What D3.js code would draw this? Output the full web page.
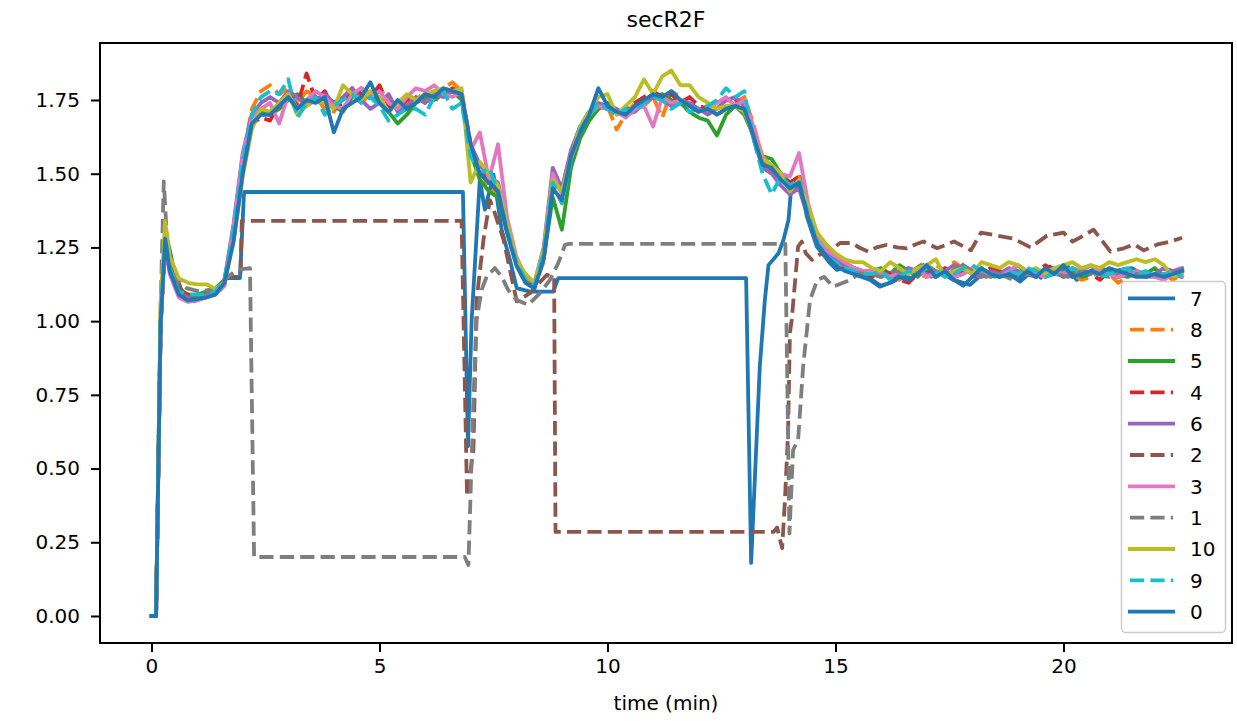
<!DOCTYPE html>
<meta charset="utf-8">
<script src="https://d3js.org/d3.v7.min.js"></script>
<style>
  body { margin: 0; background: #fff; }
  text { font-family: "DejaVu Sans", sans-serif; }
</style>
<div id="my_dataviz"></div>
<script>

// shared sampling grid (minutes) for the series that follow the common profile
var gridMin = [0,0.1,0.2,0.3,0.4,0.6,0.8,1,1.2,1.4,1.6,1.8,2,2.2,2.4,2.6,2.8,3,3.2,3.4,3.6,3.8,4,4.2,4.4,4.6,4.8,5,5.2,5.4,5.6,5.8,6,6.2,6.4,6.6,6.8,7,7.2,7.4,7.6,7.8,8,8.2,8.4,8.6,8.8,9,9.2,9.4,9.6,9.8,10,10.2,10.4,10.6,10.8,11,11.2,11.4,11.6,11.8,12,12.2,12.4,12.6,12.8,13,13.2,13.4,13.6,13.8,14,14.2,14.4,14.6,14.8,15,15.2,15.4,15.6,15.8,16,16.2,16.4,16.6,16.8,17,17.2,17.4,17.6,17.8,18,18.2,18.4,18.6,18.8,19,19.2,19.4,19.6,19.8,20,20.2,20.4,20.6,20.8,21,21.2,21.4,21.6,21.8,22,22.2,22.4,22.6];

var s8 = [0,0,0.98,1.26,1.18,1.11,1.08,1.08,1.09,1.09,1.12,1.30,1.55,1.72,1.78,
  1.80,1.77,1.79,1.74,1.78,1.76,1.72,1.71,1.76,1.78,1.74,1.77,1.79,1.75,1.72,1.74,1.77,1.75,1.74,1.79,1.81,1.78,
  1.60,1.52,1.45,1.43,1.30,1.19,1.13,1.12,1.20,1.46,1.40,
  1.55,1.63,1.69,1.72,1.73,1.65,1.70,1.74,1.73,1.76,1.69,1.78,1.76,1.73,1.72,1.71,1.72,1.75,1.74,1.76,
  1.67,1.55,1.50,1.50,1.47,1.49,1.35,1.26,1.22,1.20,1.19,1.17,1.15,
  1.16,1.15,1.17,1.14,1.18,1.16,1.15,1.19,1.17,1.20,1.18,1.16,1.15,1.17,1.18,1.16,1.14,1.17,1.16,1.15,1.18,1.17,1.16,1.14,1.15,1.17,1.16,1.13,1.15,1.16,1.17,1.15,1.16,1.14,1.16];

var s5 = [0,0,1.02,1.27,1.19,1.11,1.09,1.09,1.10,1.11,1.14,1.28,1.50,1.66,1.71,
  1.70,1.72,1.75,1.77,1.74,1.76,1.75,1.73,1.71,1.76,1.79,1.77,1.74,1.71,1.67,1.70,1.74,1.76,1.75,1.77,1.78,1.75,
  1.57,1.48,1.44,1.42,1.30,1.20,1.14,1.12,1.21,1.42,1.31,
  1.52,1.62,1.68,1.72,1.74,1.71,1.70,1.72,1.74,1.76,1.77,1.75,1.74,1.71,1.69,1.68,1.63,1.70,1.73,1.70,
  1.63,1.56,1.55,1.50,1.47,1.48,1.37,1.28,1.24,1.21,1.20,1.18,1.17,
  1.17,1.18,1.16,1.19,1.17,1.15,1.18,1.16,1.17,1.15,1.16,1.18,1.17,1.15,1.16,1.17,1.19,1.16,1.15,1.17,1.16,1.18,1.17,1.15,1.16,1.18,1.17,1.16,1.15,1.17,1.16,1.18,1.15,1.16,1.17];

var s4 = [0,0,0.99,1.26,1.18,1.10,1.09,1.08,1.09,1.10,1.13,1.29,1.53,1.67,1.69,
  1.68,1.74,1.77,1.73,1.84,1.75,1.78,1.72,1.74,1.79,1.77,1.76,1.80,1.73,1.72,1.75,1.76,1.74,1.78,1.76,1.79,1.77,
  1.59,1.51,1.47,1.44,1.32,1.20,1.15,1.12,1.23,1.49,1.45,
  1.57,1.66,1.71,1.73,1.72,1.70,1.72,1.74,1.76,1.78,1.76,1.77,1.74,1.76,1.73,1.72,1.70,1.72,1.75,1.74,
  1.65,1.55,1.51,1.49,1.47,1.49,1.36,1.27,1.23,1.21,1.19,1.18,1.16,
  1.15,1.17,1.16,1.14,1.13,1.16,1.17,1.15,1.18,1.16,1.17,1.15,1.16,1.18,1.17,1.16,1.15,1.17,1.16,1.19,1.17,1.15,1.16,1.18,1.16,1.14,1.17,1.15,1.16,1.17,1.15,1.16,1.17,1.15,1.16];

var s6 = [0,0,1.00,1.27,1.18,1.10,1.08,1.08,1.09,1.10,1.14,1.33,1.57,1.70,1.74,
  1.76,1.74,1.78,1.76,1.73,1.75,1.77,1.74,1.76,1.79,1.75,1.72,1.74,1.77,1.71,1.73,1.76,1.74,1.77,1.76,1.78,1.77,
  1.60,1.53,1.49,1.47,1.33,1.21,1.15,1.13,1.25,1.52,1.45,
  1.58,1.66,1.71,1.74,1.73,1.72,1.70,1.71,1.74,1.76,1.75,1.73,1.75,1.74,1.72,1.70,1.72,1.75,1.76,1.73,
  1.62,1.52,1.50,1.46,1.43,1.45,1.35,1.27,1.23,1.21,1.19,1.18,1.17,
  1.16,1.17,1.15,1.16,1.18,1.17,1.16,1.15,1.17,1.19,1.18,1.16,1.15,1.17,1.16,1.18,1.17,1.16,1.15,1.17,1.18,1.16,1.15,1.17,1.16,1.18,1.16,1.15,1.16,1.17,1.15,1.16,1.18,1.17,1.18];

var s3 = [0,0,0.98,1.25,1.16,1.08,1.065,1.07,1.08,1.09,1.12,1.32,1.56,1.69,1.72,
  1.74,1.67,1.77,1.72,1.75,1.78,1.76,1.73,1.72,1.77,1.79,1.76,1.78,1.74,1.72,1.76,1.79,1.78,1.80,1.77,1.76,1.78,
  1.58,1.64,1.48,1.60,1.35,1.22,1.15,1.13,1.24,1.50,1.43,
  1.55,1.64,1.70,1.73,1.72,1.71,1.69,1.72,1.73,1.66,1.76,1.74,1.75,1.73,1.71,1.72,1.74,1.76,1.73,1.75,
  1.66,1.56,1.52,1.50,1.49,1.57,1.40,1.29,1.24,1.22,1.20,1.18,1.17,
  1.17,1.16,1.15,1.17,1.16,1.18,1.15,1.16,1.17,1.15,1.16,1.18,1.17,1.16,1.15,1.17,1.19,1.17,1.16,1.15,1.17,1.16,1.18,1.17,1.19,1.17,1.16,1.15,1.16,1.17,1.16,1.15,1.14,1.16,1.15];

var s10 = [0,0,1.06,1.34,1.22,1.145,1.13,1.125,1.125,1.11,1.13,1.27,1.49,1.65,1.72,
  1.71,1.74,1.77,1.70,1.73,1.75,1.74,1.72,1.80,1.77,1.75,1.78,1.76,1.71,1.74,1.77,1.75,1.77,1.78,1.79,1.78,1.79,
  1.47,1.54,1.50,1.46,1.33,1.21,1.16,1.13,1.24,1.48,1.44,
  1.56,1.66,1.71,1.76,1.77,1.70,1.73,1.76,1.82,1.77,1.83,1.85,1.80,1.80,1.76,1.74,1.72,1.73,1.73,1.71,
  1.63,1.55,1.53,1.50,1.44,1.48,1.39,1.30,1.26,1.23,1.21,1.20,1.20,
  1.18,1.17,1.20,1.18,1.16,1.18,1.19,1.21,1.15,1.17,1.18,1.16,1.20,1.19,1.18,1.20,1.19,1.17,1.18,1.16,1.18,1.19,1.20,1.18,1.19,1.18,1.20,1.19,1.20,1.21,1.20,1.21,1.19,1.15,1.16];

var s9 = [0,0,1.00,1.28,1.18,1.10,1.09,1.09,1.09,1.10,1.14,1.31,1.54,1.70,1.76,
  1.78,1.77,1.82,1.69,1.74,1.76,1.70,1.73,1.75,1.77,1.74,1.76,1.73,1.68,1.70,1.72,1.72,1.70,1.76,1.78,1.72,1.74,
  1.56,1.50,1.52,1.44,1.31,1.20,1.14,1.12,1.23,1.47,1.40,
  1.55,1.65,1.70,1.74,1.72,1.70,1.72,1.71,1.74,1.76,1.75,1.72,1.74,1.71,1.72,1.73,1.75,1.79,1.76,1.78,
  1.62,1.50,1.43,1.49,1.46,1.48,1.36,1.27,1.22,1.20,1.18,1.17,1.16,
  1.16,1.17,1.14,1.15,1.17,1.16,1.18,1.17,1.15,1.16,1.18,1.19,1.17,1.16,1.15,1.17,1.16,1.18,1.17,1.15,1.16,1.17,1.18,1.16,1.17,1.15,1.16,1.17,1.18,1.16,1.17,1.15,1.16,1.17,1.15];

var s0 = [0,0,0.99,1.28,1.17,1.09,1.07,1.075,1.08,1.09,1.13,1.27,1.50,1.67,1.70,
  1.70,1.73,1.76,1.72,1.75,1.74,1.76,1.64,1.72,1.74,1.76,1.81,1.74,1.71,1.75,1.72,1.74,1.77,1.76,1.79,1.78,1.77,
  1.60,1.50,1.47,1.44,1.30,1.19,1.13,1.11,1.21,1.45,1.41,
  1.56,1.64,1.70,1.79,1.73,1.71,1.70,1.73,1.75,1.77,1.76,1.78,1.75,1.73,1.71,1.72,1.70,1.72,1.73,1.72,
  1.63,1.53,1.52,1.48,1.45,1.47,1.35,1.26,1.22,1.19,1.17,1.16,1.15,
  1.14,1.12,1.13,1.15,1.14,1.16,1.19,1.15,1.17,1.14,1.12,1.15,1.18,1.16,1.15,1.16,1.14,1.17,1.15,1.18,1.16,1.19,1.15,1.16,1.17,1.16,1.18,1.17,1.16,1.15,1.15,1.16,1.15,1.16,1.17];

// series with setpoint steps have their own time stamps
var t7 = [0,0.1,0.2,0.3,0.48,0.7,0.92,1.2,1.43,1.57,1.65,1.94,2.03,6.83,6.94,7.02,7.2,7.31,7.5,7.68,7.86,8.01,8.3,8.81,8.92,13.04,13.15,13.34,13.45,13.53,13.75,13.86,13.97,14.04,14.11,14.22,14.37,14.59,14.88,15.03,15.25,15.46,15.76,15.97,16.2,16.49,16.7,16.93,17.1,17.29,17.58,17.95,18.24,18.5,18.8,19.05,19.34,19.5,19.7,19.9,20.07,20.29,20.5,20.73,21,21.24,21.5,21.83,22.26,22.6];
var s7 = [0,0,0.99,1.31,1.185,1.083,1.067,1.083,1.095,1.13,1.146,1.146,1.438,1.438,0.575,1.0,1.48,1.378,1.497,1.31,1.208,1.112,1.10,1.10,1.146,1.146,0.18,0.846,1.07,1.19,1.23,1.276,1.344,1.474,1.446,1.49,1.355,1.253,1.197,1.174,1.185,1.157,1.14,1.117,1.13,1.151,1.146,1.19,1.151,1.168,1.14,1.123,1.163,1.151,1.163,1.134,1.174,1.147,1.185,1.163,1.19,1.14,1.163,1.18,1.163,1.174,1.18,1.151,1.151,1.174];

var t2 = [0,0.1,0.2,0.3,0.45,0.7,1.0,1.3,1.5,1.65,1.95,1.98,6.8,6.92,7.06,7.13,7.28,7.42,7.5,7.72,8.01,8.3,8.67,8.83,8.86,13.64,13.72,13.83,13.89,13.96,14.0,14.04,14.18,14.26,14.35,14.48,14.7,14.95,15.1,15.35,15.54,15.72,15.9,16.13,16.35,16.57,16.75,16.93,17.23,17.6,17.97,18.19,18.55,18.9,19.28,19.64,20.0,20.2,20.44,20.66,21.03,21.32,21.55,21.76,22.06,22.35,22.6];
var s2 = [0,0,0.98,1.28,1.17,1.09,1.08,1.10,1.12,1.15,1.15,1.34,1.34,0.405,0.563,1.072,1.276,1.41,1.38,1.276,1.067,1.095,1.157,1.15,0.285,0.285,0.30,0.23,0.39,0.62,0.96,1.004,1.253,1.27,1.23,1.208,1.23,1.248,1.265,1.265,1.248,1.236,1.25,1.259,1.25,1.247,1.26,1.27,1.247,1.27,1.24,1.30,1.29,1.28,1.25,1.29,1.30,1.27,1.29,1.31,1.236,1.247,1.26,1.24,1.26,1.27,1.283];

var t1 = [0,0.1,0.2,0.27,0.35,0.5,0.77,1.06,1.4,1.6,1.87,2.16,2.25,6.87,6.95,7.06,7.13,7.24,7.35,7.53,7.68,7.82,8.01,8.26,8.52,8.74,8.92,9.07,9.15,13.9,13.99,14.07,14.18,14.29,14.44,14.6,14.75,14.95,15.32,15.54,15.8,16.0,16.3,16.6,16.93,17.2,17.5,17.73,18.0,18.3,18.6,18.9,19.2,19.5,19.8,20.1,20.4,20.7,21.0,21.3,21.6,21.9,22.2,22.6];
var s1 = [0,0,1.05,1.474,1.25,1.15,1.112,1.10,1.11,1.14,1.174,1.18,0.20,0.20,0.173,0.733,1.004,1.106,1.151,1.18,1.151,1.106,1.072,1.055,1.095,1.14,1.197,1.259,1.262,1.262,0.28,0.563,0.597,0.846,1.07,1.14,1.15,1.117,1.14,1.163,1.16,1.15,1.17,1.16,1.197,1.17,1.16,1.197,1.17,1.15,1.16,1.14,1.16,1.17,1.16,1.15,1.17,1.16,1.15,1.17,1.16,1.15,1.16,1.15];

// legend order = drawing order
var labels = ["7","8","5","4","6","2","3","1","10","9","0"];
var xTicks = [0, 5, 10, 15, 20];
var yTicks = [0, 0.25, 0.5, 0.75, 1.0, 1.25, 1.5, 1.75];

var series = [
  {label: "7",  t: t7,      v: s7,  color: "#1f77b4", dash: false},
  {label: "8",  t: gridMin, v: s8,  color: "#ff7f0e", dash: true},
  {label: "5",  t: gridMin, v: s5,  color: "#2ca02c", dash: false},
  {label: "4",  t: gridMin, v: s4,  color: "#d62728", dash: true},
  {label: "6",  t: gridMin, v: s6,  color: "#9467bd", dash: false},
  {label: "2",  t: t2,      v: s2,  color: "#8c564b", dash: true},
  {label: "3",  t: gridMin, v: s3,  color: "#e377c2", dash: false},
  {label: "1",  t: t1,      v: s1,  color: "#7f7f7f", dash: true},
  {label: "10", t: gridMin, v: s10, color: "#bcbd22", dash: false},
  {label: "9",  t: gridMin, v: s9,  color: "#17becf", dash: true},
  {label: "0",  t: gridMin, v: s0,  color: "#1f77b4", dash: false}
];

var width = 1237, height = 721;
var plot = {left: 100, right: 1232, top: 43, bottom: 643};
var lw = 3.8, dashPat = "14.2,6.2";

var svg = d3.select("#my_dataviz")
  .append("svg")
    .attr("width", width)
    .attr("height", height);

var x = d3.scaleLinear().domain([-1.129, 23.695]).range([plot.left, plot.right]);
var y = d3.scaleLinear().domain([-0.0916, 1.9433]).range([plot.bottom, plot.top]);

svg.append("clipPath").attr("id", "clip")
  .append("rect")
    .attr("x", plot.left).attr("y", plot.top)
    .attr("width", plot.right - plot.left).attr("height", plot.bottom - plot.top);

var line = d3.line()
  .x(function(d) { return x(d[0]); })
  .y(function(d) { return y(d[1]); });

var lines = svg.append("g").attr("clip-path", "url(#clip)");
series.forEach(function(s) {
  if (s.t.length !== s.v.length) console.warn("length mismatch", s.label);
  lines.append("path")
    .datum(d3.zip(s.t, s.v))
    .attr("d", line)
    .attr("fill", "none")
    .attr("stroke", s.color)
    .attr("stroke-width", lw)
    .attr("stroke-linejoin", "round")
    .attr("stroke-linecap", s.dash ? "butt" : "square")
    .attr("stroke-dasharray", s.dash ? dashPat : null);
});

// axes
var xAxis = svg.append("g")
  .attr("transform", "translate(0," + plot.bottom + ")")
  .call(d3.axisBottom(x).tickValues(xTicks).tickSize(9).tickPadding(7).tickFormat(d3.format("d")));
var yAxis = svg.append("g")
  .attr("transform", "translate(" + plot.left + ",0)")
  .call(d3.axisLeft(y).tickValues(yTicks).tickSize(9).tickPadding(11).tickFormat(d3.format(".2f")));

[xAxis, yAxis].forEach(function(g) {
  g.select(".domain").remove();
  g.selectAll(".tick line").attr("stroke", "#000").attr("stroke-width", 2);
  g.selectAll(".tick text")
    .attr("fill", "#000")
    .style("font-family", "'DejaVu Sans', sans-serif")
    .style("font-size", "20px");
});

// frame
svg.append("rect")
  .attr("x", plot.left).attr("y", plot.top)
  .attr("width", plot.right - plot.left).attr("height", plot.bottom - plot.top)
  .attr("fill", "none").attr("stroke", "#000").attr("stroke-width", 2);

// title and axis label
svg.append("text")
  .attr("x", (plot.left + plot.right) / 2).attr("y", 27)
  .attr("text-anchor", "middle")
  .style("font-size", "22px")
  .text("secR2F");

svg.append("text")
  .attr("x", (plot.left + plot.right) / 2).attr("y", 710)
  .attr("text-anchor", "middle")
  .style("font-size", "20px")
  .text("time (min)");

// legend
var leg = svg.append("g");
leg.append("rect")
  .attr("x", 1121.5).attr("y", 281.5)
  .attr("width", 104).attr("height", 351)
  .attr("rx", 4)
  .attr("fill", "#fff").attr("fill-opacity", 0.8)
  .attr("stroke", "#cccccc").attr("stroke-width", 1.5);

series.forEach(function(s, i) {
  var ly = 298.3 + i * 31.34;
  leg.append("line")
    .attr("x1", s.dash ? 1130 : 1128).attr("x2", s.dash ? 1173 : 1175)
    .attr("y1", ly).attr("y2", ly)
    .attr("stroke", s.color)
    .attr("stroke-width", lw)
    .attr("stroke-dasharray", s.dash ? dashPat : null);
  leg.append("text")
    .attr("x", 1190).attr("y", ly)
    .attr("dy", "0.36em")
    .style("font-size", "20px")
    .text(labels[i]);
});

</script>
